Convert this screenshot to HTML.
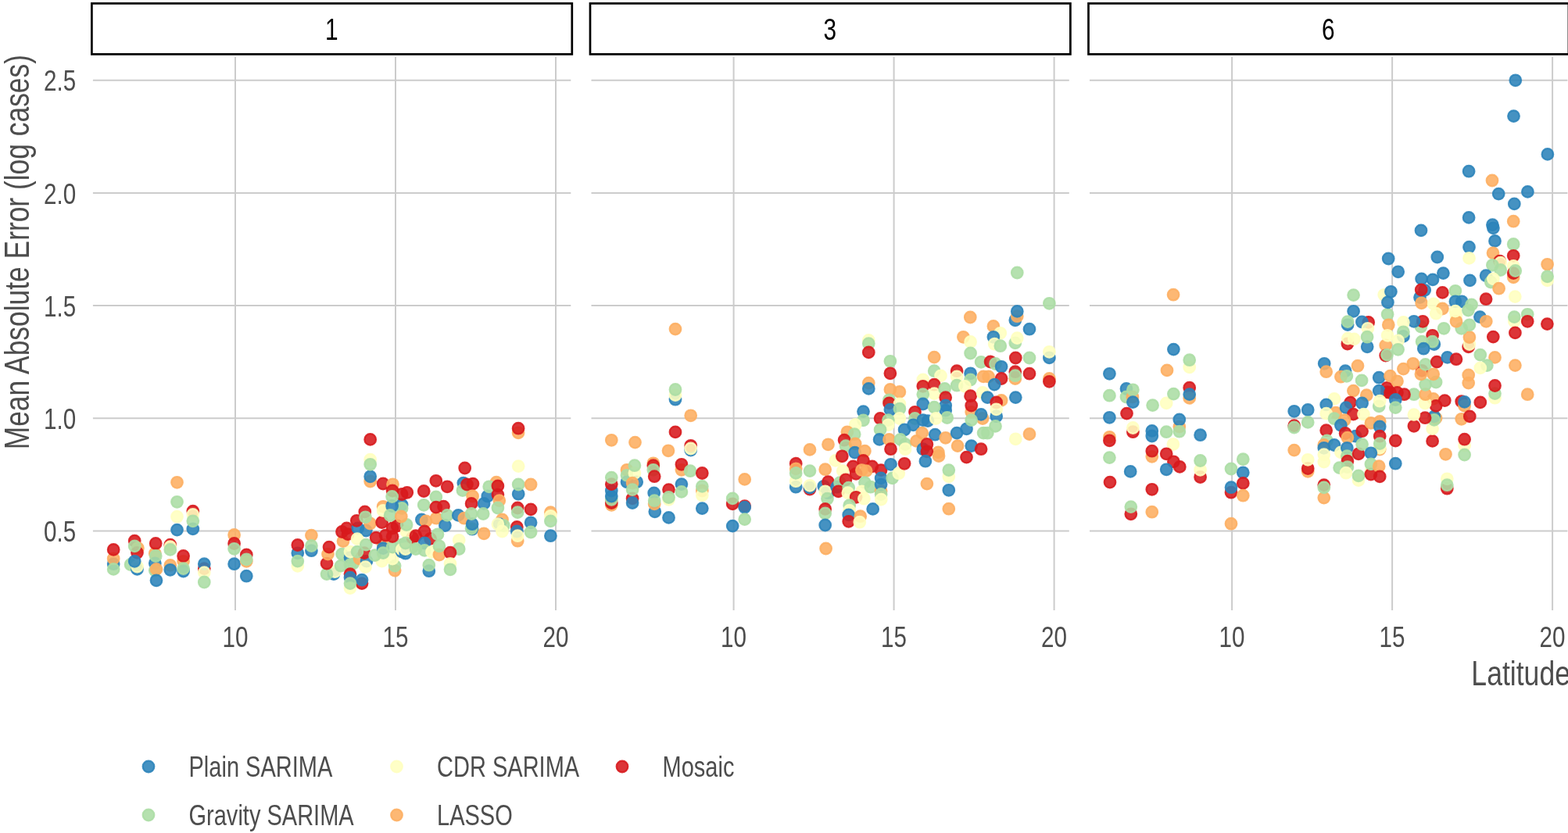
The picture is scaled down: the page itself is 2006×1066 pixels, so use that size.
<!DOCTYPE html><html><head><meta charset="utf-8"><style>html,body{margin:0;padding:0;background:#fff;overflow:hidden}svg{display:block}</style></head><body><svg width="2006" height="1066" viewBox="0 0 2006 1066" font-family="'Liberation Sans', Arial, sans-serif">
<rect width="2006" height="1066" fill="#fff"/>
<line x1="118.9" y1="679.5" x2="730.3" y2="679.5" stroke="#cccccc" stroke-width="2"/>
<line x1="118.9" y1="535.3" x2="730.3" y2="535.3" stroke="#cccccc" stroke-width="2"/>
<line x1="118.9" y1="391.1" x2="730.3" y2="391.1" stroke="#cccccc" stroke-width="2"/>
<line x1="118.9" y1="246.9" x2="730.3" y2="246.9" stroke="#cccccc" stroke-width="2"/>
<line x1="118.9" y1="102.7" x2="730.3" y2="102.7" stroke="#cccccc" stroke-width="2"/>
<line x1="301.0" y1="73.0" x2="301.0" y2="781.0" stroke="#cccccc" stroke-width="2"/>
<text transform="translate(301.0,828.2) scale(0.794,1)" font-size="37.35" text-anchor="middle" fill="#4d4d4d">10</text>
<line x1="506.0" y1="73.0" x2="506.0" y2="781.0" stroke="#cccccc" stroke-width="2"/>
<text transform="translate(506.0,828.2) scale(0.794,1)" font-size="37.35" text-anchor="middle" fill="#4d4d4d">15</text>
<line x1="711.0" y1="73.0" x2="711.0" y2="781.0" stroke="#cccccc" stroke-width="2"/>
<text transform="translate(711.0,828.2) scale(0.794,1)" font-size="37.35" text-anchor="middle" fill="#4d4d4d">20</text>
<rect x="117.4" y="4.4" width="614.4" height="65" fill="#fff" stroke="#000" stroke-width="2.7"/>
<text transform="translate(424.2,50.8) scale(0.771,1)" font-size="38.7" text-anchor="middle" fill="#000">1</text>
<line x1="756.5" y1="679.5" x2="1367.8" y2="679.5" stroke="#cccccc" stroke-width="2"/>
<line x1="756.5" y1="535.3" x2="1367.8" y2="535.3" stroke="#cccccc" stroke-width="2"/>
<line x1="756.5" y1="391.1" x2="1367.8" y2="391.1" stroke="#cccccc" stroke-width="2"/>
<line x1="756.5" y1="246.9" x2="1367.8" y2="246.9" stroke="#cccccc" stroke-width="2"/>
<line x1="756.5" y1="102.7" x2="1367.8" y2="102.7" stroke="#cccccc" stroke-width="2"/>
<line x1="938.6" y1="73.0" x2="938.6" y2="781.0" stroke="#cccccc" stroke-width="2"/>
<text transform="translate(938.6,828.2) scale(0.794,1)" font-size="37.35" text-anchor="middle" fill="#4d4d4d">10</text>
<line x1="1143.6" y1="73.0" x2="1143.6" y2="781.0" stroke="#cccccc" stroke-width="2"/>
<text transform="translate(1143.6,828.2) scale(0.794,1)" font-size="37.35" text-anchor="middle" fill="#4d4d4d">15</text>
<line x1="1348.6" y1="73.0" x2="1348.6" y2="781.0" stroke="#cccccc" stroke-width="2"/>
<text transform="translate(1348.6,828.2) scale(0.794,1)" font-size="37.35" text-anchor="middle" fill="#4d4d4d">20</text>
<rect x="755.0" y="4.4" width="614.4" height="65" fill="#fff" stroke="#000" stroke-width="2.7"/>
<text transform="translate(1061.8,50.8) scale(0.771,1)" font-size="38.7" text-anchor="middle" fill="#000">3</text>
<line x1="1394.0" y1="679.5" x2="2005.4" y2="679.5" stroke="#cccccc" stroke-width="2"/>
<line x1="1394.0" y1="535.3" x2="2005.4" y2="535.3" stroke="#cccccc" stroke-width="2"/>
<line x1="1394.0" y1="391.1" x2="2005.4" y2="391.1" stroke="#cccccc" stroke-width="2"/>
<line x1="1394.0" y1="246.9" x2="2005.4" y2="246.9" stroke="#cccccc" stroke-width="2"/>
<line x1="1394.0" y1="102.7" x2="2005.4" y2="102.7" stroke="#cccccc" stroke-width="2"/>
<line x1="1576.1" y1="73.0" x2="1576.1" y2="781.0" stroke="#cccccc" stroke-width="2"/>
<text transform="translate(1576.1,828.2) scale(0.794,1)" font-size="37.35" text-anchor="middle" fill="#4d4d4d">10</text>
<line x1="1781.1" y1="73.0" x2="1781.1" y2="781.0" stroke="#cccccc" stroke-width="2"/>
<text transform="translate(1781.1,828.2) scale(0.794,1)" font-size="37.35" text-anchor="middle" fill="#4d4d4d">15</text>
<line x1="1986.1" y1="73.0" x2="1986.1" y2="781.0" stroke="#cccccc" stroke-width="2"/>
<text transform="translate(1986.1,828.2) scale(0.794,1)" font-size="37.35" text-anchor="middle" fill="#4d4d4d">20</text>
<rect x="1392.5" y="4.4" width="614.4" height="65" fill="#fff" stroke="#000" stroke-width="2.7"/>
<text transform="translate(1699.3,50.8) scale(0.771,1)" font-size="38.7" text-anchor="middle" fill="#000">6</text>
<text transform="translate(97.2,693.1) scale(0.794,1)" font-size="37.35" text-anchor="end" fill="#4d4d4d">0.5</text>
<text transform="translate(97.2,548.9) scale(0.794,1)" font-size="37.35" text-anchor="end" fill="#4d4d4d">1.0</text>
<text transform="translate(97.2,404.7) scale(0.794,1)" font-size="37.35" text-anchor="end" fill="#4d4d4d">1.5</text>
<text transform="translate(97.2,260.5) scale(0.794,1)" font-size="37.35" text-anchor="end" fill="#4d4d4d">2.0</text>
<text transform="translate(97.2,116.3) scale(0.794,1)" font-size="37.35" text-anchor="end" fill="#4d4d4d">2.5</text>
<text transform="translate(36.8,70.0) rotate(-90) scale(0.8025,1)" font-size="44.1" text-anchor="end" fill="#4d4d4d">Mean Absolute Error (log cases)</text>
<text transform="translate(2009.0,877.2) scale(0.807,1)" font-size="44.1" text-anchor="end" fill="#4d4d4d">Latitude</text>
<g fill-opacity="0.88" stroke-opacity="0.88" stroke-width="2.2">
<circle cx="145.2" cy="721.7" r="7.30" fill="#2b83ba" stroke="#2b83ba"/>
<circle cx="145.2" cy="714.9" r="7.30" fill="#fdae61" stroke="#fdae61"/>
<circle cx="145.2" cy="728.4" r="7.30" fill="#abdda4" stroke="#abdda4"/>
<circle cx="145.2" cy="703.4" r="7.30" fill="#d7191c" stroke="#d7191c"/>
<circle cx="172.2" cy="692.1" r="7.30" fill="#d7191c" stroke="#d7191c"/>
<circle cx="176.4" cy="701.4" r="7.30" fill="#fdae61" stroke="#fdae61"/>
<circle cx="175.5" cy="707.3" r="7.30" fill="#d7191c" stroke="#d7191c"/>
<circle cx="172.2" cy="698.9" r="7.30" fill="#abdda4" stroke="#abdda4"/>
<circle cx="167.1" cy="722.5" r="7.30" fill="#abdda4" stroke="#abdda4"/>
<circle cx="175.5" cy="728.4" r="7.30" fill="#2b83ba" stroke="#2b83ba"/>
<circle cx="175.5" cy="725.0" r="7.30" fill="#ffffbf" stroke="#ffffbf"/>
<circle cx="172.2" cy="718.3" r="7.30" fill="#2b83ba" stroke="#2b83ba"/>
<circle cx="198.3" cy="708.2" r="7.30" fill="#fdae61" stroke="#fdae61"/>
<circle cx="198.3" cy="720.8" r="7.30" fill="#2b83ba" stroke="#2b83ba"/>
<circle cx="198.3" cy="730.1" r="7.30" fill="#abdda4" stroke="#abdda4"/>
<circle cx="199.2" cy="695.5" r="7.30" fill="#d7191c" stroke="#d7191c"/>
<circle cx="199.2" cy="711.5" r="7.30" fill="#abdda4" stroke="#abdda4"/>
<circle cx="200.0" cy="728.4" r="7.30" fill="#fdae61" stroke="#fdae61"/>
<circle cx="200.0" cy="742.8" r="7.30" fill="#2b83ba" stroke="#2b83ba"/>
<circle cx="217.8" cy="697.2" r="7.30" fill="#d7191c" stroke="#d7191c"/>
<circle cx="217.8" cy="699.7" r="7.30" fill="#ffffbf" stroke="#ffffbf"/>
<circle cx="217.8" cy="703.4" r="7.30" fill="#abdda4" stroke="#abdda4"/>
<circle cx="217.8" cy="723.4" r="7.30" fill="#fdae61" stroke="#fdae61"/>
<circle cx="217.8" cy="729.3" r="7.30" fill="#2b83ba" stroke="#2b83ba"/>
<circle cx="234.6" cy="718.3" r="7.30" fill="#fdae61" stroke="#fdae61"/>
<circle cx="234.6" cy="731.0" r="7.30" fill="#2b83ba" stroke="#2b83ba"/>
<circle cx="234.6" cy="711.5" r="7.30" fill="#d7191c" stroke="#d7191c"/>
<circle cx="234.6" cy="727.6" r="7.30" fill="#abdda4" stroke="#abdda4"/>
<circle cx="226.5" cy="617.3" r="7.30" fill="#fdae61" stroke="#fdae61"/>
<circle cx="226.5" cy="642.3" r="7.30" fill="#abdda4" stroke="#abdda4"/>
<circle cx="226.5" cy="661.2" r="7.30" fill="#ffffbf" stroke="#ffffbf"/>
<circle cx="226.5" cy="678.1" r="7.30" fill="#2b83ba" stroke="#2b83ba"/>
<circle cx="246.8" cy="654.1" r="7.30" fill="#d7191c" stroke="#d7191c"/>
<circle cx="246.8" cy="658.4" r="7.30" fill="#ffffbf" stroke="#ffffbf"/>
<circle cx="246.8" cy="676.9" r="7.30" fill="#2b83ba" stroke="#2b83ba"/>
<circle cx="246.8" cy="666.8" r="7.30" fill="#abdda4" stroke="#abdda4"/>
<circle cx="261.3" cy="727.6" r="7.30" fill="#d7191c" stroke="#d7191c"/>
<circle cx="261.3" cy="721.7" r="7.30" fill="#2b83ba" stroke="#2b83ba"/>
<circle cx="261.3" cy="732.6" r="7.30" fill="#ffffbf" stroke="#ffffbf"/>
<circle cx="261.3" cy="745.0" r="7.30" fill="#abdda4" stroke="#abdda4"/>
<circle cx="299.6" cy="684.5" r="7.30" fill="#fdae61" stroke="#fdae61"/>
<circle cx="299.6" cy="721.7" r="7.30" fill="#2b83ba" stroke="#2b83ba"/>
<circle cx="299.6" cy="695.5" r="7.30" fill="#d7191c" stroke="#d7191c"/>
<circle cx="299.6" cy="702.3" r="7.30" fill="#abdda4" stroke="#abdda4"/>
<circle cx="315.3" cy="709.9" r="7.30" fill="#d7191c" stroke="#d7191c"/>
<circle cx="315.3" cy="718.3" r="7.30" fill="#fdae61" stroke="#fdae61"/>
<circle cx="315.3" cy="715.8" r="7.30" fill="#abdda4" stroke="#abdda4"/>
<circle cx="315.3" cy="737.2" r="7.30" fill="#2b83ba" stroke="#2b83ba"/>
<circle cx="473.7" cy="616.0" r="7.30" fill="#fdae61" stroke="#fdae61"/>
<circle cx="473.7" cy="609.8" r="7.30" fill="#2b83ba" stroke="#2b83ba"/>
<circle cx="473.7" cy="588.2" r="7.30" fill="#ffffbf" stroke="#ffffbf"/>
<circle cx="473.7" cy="594.3" r="7.30" fill="#abdda4" stroke="#abdda4"/>
<circle cx="473.7" cy="562.4" r="7.30" fill="#d7191c" stroke="#d7191c"/>
<circle cx="380.8" cy="724.3" r="7.30" fill="#ffffbf" stroke="#ffffbf"/>
<circle cx="380.8" cy="707.8" r="7.30" fill="#2b83ba" stroke="#2b83ba"/>
<circle cx="380.8" cy="718.1" r="7.30" fill="#abdda4" stroke="#abdda4"/>
<circle cx="380.8" cy="697.5" r="7.30" fill="#d7191c" stroke="#d7191c"/>
<circle cx="398.4" cy="704.7" r="7.30" fill="#2b83ba" stroke="#2b83ba"/>
<circle cx="398.4" cy="685.1" r="7.30" fill="#fdae61" stroke="#fdae61"/>
<circle cx="398.4" cy="698.5" r="7.30" fill="#abdda4" stroke="#abdda4"/>
<circle cx="427.0" cy="734.6" r="7.30" fill="#2b83ba" stroke="#2b83ba"/>
<circle cx="428.5" cy="731.6" r="7.30" fill="#ffffbf" stroke="#ffffbf"/>
<circle cx="418.0" cy="734.6" r="7.30" fill="#abdda4" stroke="#abdda4"/>
<circle cx="418.0" cy="721.1" r="7.30" fill="#d7191c" stroke="#d7191c"/>
<circle cx="419.5" cy="709.1" r="7.30" fill="#fdae61" stroke="#fdae61"/>
<circle cx="421.0" cy="700.1" r="7.30" fill="#d7191c" stroke="#d7191c"/>
<circle cx="436.0" cy="724.1" r="7.30" fill="#abdda4" stroke="#abdda4"/>
<circle cx="437.5" cy="709.1" r="7.30" fill="#abdda4" stroke="#abdda4"/>
<circle cx="448.0" cy="713.6" r="7.30" fill="#2b83ba" stroke="#2b83ba"/>
<circle cx="448.0" cy="722.6" r="7.30" fill="#abdda4" stroke="#abdda4"/>
<circle cx="451.8" cy="721.1" r="7.30" fill="#abdda4" stroke="#abdda4"/>
<circle cx="460.0" cy="715.1" r="7.30" fill="#fdae61" stroke="#fdae61"/>
<circle cx="469.0" cy="718.1" r="7.30" fill="#2b83ba" stroke="#2b83ba"/>
<circle cx="466.0" cy="707.6" r="7.30" fill="#d7191c" stroke="#d7191c"/>
<circle cx="467.5" cy="725.6" r="7.30" fill="#ffffbf" stroke="#ffffbf"/>
<circle cx="448.0" cy="706.1" r="7.30" fill="#ffffbf" stroke="#ffffbf"/>
<circle cx="457.0" cy="706.1" r="7.30" fill="#abdda4" stroke="#abdda4"/>
<circle cx="439.0" cy="692.6" r="7.30" fill="#fdae61" stroke="#fdae61"/>
<circle cx="437.5" cy="680.5" r="7.30" fill="#d7191c" stroke="#d7191c"/>
<circle cx="443.5" cy="676.0" r="7.30" fill="#d7191c" stroke="#d7191c"/>
<circle cx="445.0" cy="683.6" r="7.30" fill="#d7191c" stroke="#d7191c"/>
<circle cx="457.8" cy="676.0" r="7.30" fill="#2b83ba" stroke="#2b83ba"/>
<circle cx="468.3" cy="679.0" r="7.30" fill="#2b83ba" stroke="#2b83ba"/>
<circle cx="457.0" cy="689.6" r="7.30" fill="#ffffbf" stroke="#ffffbf"/>
<circle cx="468.3" cy="697.1" r="7.30" fill="#abdda4" stroke="#abdda4"/>
<circle cx="456.3" cy="666.3" r="7.30" fill="#d7191c" stroke="#d7191c"/>
<circle cx="466.8" cy="655.0" r="7.30" fill="#d7191c" stroke="#d7191c"/>
<circle cx="473.6" cy="670.0" r="7.30" fill="#fdae61" stroke="#fdae61"/>
<circle cx="467.5" cy="661.8" r="7.30" fill="#abdda4" stroke="#abdda4"/>
<circle cx="463.0" cy="746.6" r="7.30" fill="#d7191c" stroke="#d7191c"/>
<circle cx="463.0" cy="742.1" r="7.30" fill="#2b83ba" stroke="#2b83ba"/>
<circle cx="448.0" cy="734.6" r="7.30" fill="#d7191c" stroke="#d7191c"/>
<circle cx="448.0" cy="739.1" r="7.30" fill="#2b83ba" stroke="#2b83ba"/>
<circle cx="448.0" cy="752.6" r="7.30" fill="#ffffbf" stroke="#ffffbf"/>
<circle cx="448.0" cy="746.6" r="7.30" fill="#abdda4" stroke="#abdda4"/>
<circle cx="505.1" cy="730.1" r="7.30" fill="#fdae61" stroke="#fdae61"/>
<circle cx="505.1" cy="724.1" r="7.30" fill="#abdda4" stroke="#abdda4"/>
<circle cx="488.6" cy="718.1" r="7.30" fill="#ffffbf" stroke="#ffffbf"/>
<circle cx="502.1" cy="715.1" r="7.30" fill="#ffffbf" stroke="#ffffbf"/>
<circle cx="479.6" cy="710.6" r="7.30" fill="#abdda4" stroke="#abdda4"/>
<circle cx="490.1" cy="697.1" r="7.30" fill="#fdae61" stroke="#fdae61"/>
<circle cx="490.1" cy="701.6" r="7.30" fill="#2b83ba" stroke="#2b83ba"/>
<circle cx="514.1" cy="706.1" r="7.30" fill="#2b83ba" stroke="#2b83ba"/>
<circle cx="490.1" cy="707.6" r="7.30" fill="#abdda4" stroke="#abdda4"/>
<circle cx="502.1" cy="700.1" r="7.30" fill="#abdda4" stroke="#abdda4"/>
<circle cx="514.1" cy="697.1" r="7.30" fill="#abdda4" stroke="#abdda4"/>
<circle cx="514.1" cy="703.1" r="7.30" fill="#ffffbf" stroke="#ffffbf"/>
<circle cx="527.6" cy="700.1" r="7.30" fill="#abdda4" stroke="#abdda4"/>
<circle cx="527.6" cy="688.1" r="7.30" fill="#d7191c" stroke="#d7191c"/>
<circle cx="481.1" cy="688.1" r="7.30" fill="#d7191c" stroke="#d7191c"/>
<circle cx="493.1" cy="685.1" r="7.30" fill="#d7191c" stroke="#d7191c"/>
<circle cx="502.1" cy="686.6" r="7.30" fill="#d7191c" stroke="#d7191c"/>
<circle cx="488.6" cy="668.5" r="7.30" fill="#d7191c" stroke="#d7191c"/>
<circle cx="502.1" cy="676.0" r="7.30" fill="#d7191c" stroke="#d7191c"/>
<circle cx="508.1" cy="673.0" r="7.30" fill="#d7191c" stroke="#d7191c"/>
<circle cx="520.1" cy="680.5" r="7.30" fill="#ffffbf" stroke="#ffffbf"/>
<circle cx="520.1" cy="671.5" r="7.30" fill="#abdda4" stroke="#abdda4"/>
<circle cx="490.1" cy="648.3" r="7.30" fill="#fdae61" stroke="#fdae61"/>
<circle cx="490.1" cy="653.5" r="7.30" fill="#ffffbf" stroke="#ffffbf"/>
<circle cx="514.1" cy="646.0" r="7.30" fill="#2b83ba" stroke="#2b83ba"/>
<circle cx="514.1" cy="650.5" r="7.30" fill="#abdda4" stroke="#abdda4"/>
<circle cx="501.6" cy="647.5" r="7.30" fill="#2b83ba" stroke="#2b83ba"/>
<circle cx="499.1" cy="659.5" r="7.30" fill="#abdda4" stroke="#abdda4"/>
<circle cx="513.3" cy="661.0" r="7.30" fill="#fdae61" stroke="#fdae61"/>
<circle cx="490.1" cy="619.0" r="7.30" fill="#d7191c" stroke="#d7191c"/>
<circle cx="502.5" cy="619.8" r="7.30" fill="#fdae61" stroke="#fdae61"/>
<circle cx="502.1" cy="628.0" r="7.30" fill="#d7191c" stroke="#d7191c"/>
<circle cx="514.1" cy="632.5" r="7.30" fill="#d7191c" stroke="#d7191c"/>
<circle cx="520.8" cy="630.3" r="7.30" fill="#d7191c" stroke="#d7191c"/>
<circle cx="501.6" cy="635.5" r="7.30" fill="#abdda4" stroke="#abdda4"/>
<circle cx="518.8" cy="708.2" r="7.30" fill="#2b83ba" stroke="#2b83ba"/>
<circle cx="518.8" cy="702.5" r="7.30" fill="#ffffbf" stroke="#ffffbf"/>
<circle cx="518.8" cy="695.0" r="7.30" fill="#abdda4" stroke="#abdda4"/>
<circle cx="539.4" cy="665.0" r="7.30" fill="#2b83ba" stroke="#2b83ba"/>
<circle cx="545.0" cy="666.9" r="7.30" fill="#fdae61" stroke="#fdae61"/>
<circle cx="558.1" cy="663.2" r="7.30" fill="#fdae61" stroke="#fdae61"/>
<circle cx="569.4" cy="672.5" r="7.30" fill="#2b83ba" stroke="#2b83ba"/>
<circle cx="531.9" cy="685.7" r="7.30" fill="#d7191c" stroke="#d7191c"/>
<circle cx="543.1" cy="680.0" r="7.30" fill="#d7191c" stroke="#d7191c"/>
<circle cx="550.6" cy="689.4" r="7.30" fill="#d7191c" stroke="#d7191c"/>
<circle cx="560.0" cy="683.8" r="7.30" fill="#abdda4" stroke="#abdda4"/>
<circle cx="543.1" cy="695.0" r="7.30" fill="#2b83ba" stroke="#2b83ba"/>
<circle cx="531.9" cy="702.5" r="7.30" fill="#abdda4" stroke="#abdda4"/>
<circle cx="543.1" cy="704.4" r="7.30" fill="#abdda4" stroke="#abdda4"/>
<circle cx="552.5" cy="706.3" r="7.30" fill="#ffffbf" stroke="#ffffbf"/>
<circle cx="561.9" cy="710.0" r="7.30" fill="#fdae61" stroke="#fdae61"/>
<circle cx="561.9" cy="698.8" r="7.30" fill="#abdda4" stroke="#abdda4"/>
<circle cx="548.8" cy="730.7" r="7.30" fill="#2b83ba" stroke="#2b83ba"/>
<circle cx="548.8" cy="723.2" r="7.30" fill="#abdda4" stroke="#abdda4"/>
<circle cx="587.2" cy="691.3" r="7.30" fill="#ffffbf" stroke="#ffffbf"/>
<circle cx="587.2" cy="702.5" r="7.30" fill="#abdda4" stroke="#abdda4"/>
<circle cx="576.0" cy="707.2" r="7.30" fill="#d7191c" stroke="#d7191c"/>
<circle cx="576.0" cy="721.3" r="7.30" fill="#ffffbf" stroke="#ffffbf"/>
<circle cx="576.0" cy="728.8" r="7.30" fill="#abdda4" stroke="#abdda4"/>
<circle cx="542.2" cy="628.5" r="7.30" fill="#d7191c" stroke="#d7191c"/>
<circle cx="557.8" cy="615.3" r="7.30" fill="#d7191c" stroke="#d7191c"/>
<circle cx="572.2" cy="622.8" r="7.30" fill="#d7191c" stroke="#d7191c"/>
<circle cx="542.2" cy="646.3" r="7.30" fill="#abdda4" stroke="#abdda4"/>
<circle cx="557.8" cy="636.0" r="7.30" fill="#abdda4" stroke="#abdda4"/>
<circle cx="557.8" cy="649.1" r="7.30" fill="#d7191c" stroke="#d7191c"/>
<circle cx="567.5" cy="648.1" r="7.30" fill="#d7191c" stroke="#d7191c"/>
<circle cx="572.2" cy="659.4" r="7.30" fill="#abdda4" stroke="#abdda4"/>
<circle cx="586.3" cy="659.4" r="7.30" fill="#2b83ba" stroke="#2b83ba"/>
<circle cx="593.8" cy="663.2" r="7.30" fill="#fdae61" stroke="#fdae61"/>
<circle cx="592.8" cy="618.1" r="7.30" fill="#2b83ba" stroke="#2b83ba"/>
<circle cx="591.9" cy="627.5" r="7.30" fill="#abdda4" stroke="#abdda4"/>
<circle cx="597.5" cy="620.0" r="7.30" fill="#d7191c" stroke="#d7191c"/>
<circle cx="605.0" cy="619.1" r="7.30" fill="#d7191c" stroke="#d7191c"/>
<circle cx="594.7" cy="599.0" r="7.30" fill="#d7191c" stroke="#d7191c"/>
<circle cx="604.6" cy="635.0" r="7.30" fill="#fdae61" stroke="#fdae61"/>
<circle cx="603.1" cy="644.4" r="7.30" fill="#d7191c" stroke="#d7191c"/>
<circle cx="604.1" cy="677.2" r="7.30" fill="#2b83ba" stroke="#2b83ba"/>
<circle cx="603.1" cy="676.3" r="7.30" fill="#abdda4" stroke="#abdda4"/>
<circle cx="604.1" cy="670.7" r="7.30" fill="#2b83ba" stroke="#2b83ba"/>
<circle cx="603.1" cy="657.5" r="7.30" fill="#abdda4" stroke="#abdda4"/>
<circle cx="619.1" cy="682.8" r="7.30" fill="#fdae61" stroke="#fdae61"/>
<circle cx="623.8" cy="635.0" r="7.30" fill="#2b83ba" stroke="#2b83ba"/>
<circle cx="635.0" cy="617.2" r="7.30" fill="#fdae61" stroke="#fdae61"/>
<circle cx="625.7" cy="622.8" r="7.30" fill="#abdda4" stroke="#abdda4"/>
<circle cx="636.9" cy="621.9" r="7.30" fill="#d7191c" stroke="#d7191c"/>
<circle cx="636.9" cy="633.1" r="7.30" fill="#d7191c" stroke="#d7191c"/>
<circle cx="638.8" cy="640.6" r="7.30" fill="#fdae61" stroke="#fdae61"/>
<circle cx="619.1" cy="644.4" r="7.30" fill="#2b83ba" stroke="#2b83ba"/>
<circle cx="618.2" cy="657.5" r="7.30" fill="#abdda4" stroke="#abdda4"/>
<circle cx="636.9" cy="650.0" r="7.30" fill="#abdda4" stroke="#abdda4"/>
<circle cx="642.5" cy="665.0" r="7.30" fill="#fdae61" stroke="#fdae61"/>
<circle cx="638.8" cy="670.7" r="7.30" fill="#2b83ba" stroke="#2b83ba"/>
<circle cx="644.4" cy="672.5" r="7.30" fill="#abdda4" stroke="#abdda4"/>
<circle cx="642.5" cy="680.0" r="7.30" fill="#ffffbf" stroke="#ffffbf"/>
<circle cx="636.9" cy="670.7" r="7.30" fill="#ffffbf" stroke="#ffffbf"/>
<circle cx="663.2" cy="596.6" r="7.30" fill="#ffffbf" stroke="#ffffbf"/>
<circle cx="663.2" cy="632.2" r="7.30" fill="#2b83ba" stroke="#2b83ba"/>
<circle cx="663.2" cy="620.0" r="7.30" fill="#abdda4" stroke="#abdda4"/>
<circle cx="679.1" cy="620.0" r="7.30" fill="#fdae61" stroke="#fdae61"/>
<circle cx="662.2" cy="650.0" r="7.30" fill="#d7191c" stroke="#d7191c"/>
<circle cx="662.2" cy="655.6" r="7.30" fill="#abdda4" stroke="#abdda4"/>
<circle cx="662.2" cy="692.2" r="7.30" fill="#fdae61" stroke="#fdae61"/>
<circle cx="661.3" cy="674.4" r="7.30" fill="#d7191c" stroke="#d7191c"/>
<circle cx="661.3" cy="680.0" r="7.30" fill="#2b83ba" stroke="#2b83ba"/>
<circle cx="662.2" cy="685.7" r="7.30" fill="#ffffbf" stroke="#ffffbf"/>
<circle cx="679.1" cy="651.9" r="7.30" fill="#d7191c" stroke="#d7191c"/>
<circle cx="679.1" cy="668.8" r="7.30" fill="#2b83ba" stroke="#2b83ba"/>
<circle cx="679.1" cy="681.0" r="7.30" fill="#abdda4" stroke="#abdda4"/>
<circle cx="704.4" cy="655.6" r="7.30" fill="#fdae61" stroke="#fdae61"/>
<circle cx="704.4" cy="660.3" r="7.30" fill="#ffffbf" stroke="#ffffbf"/>
<circle cx="704.4" cy="666.9" r="7.30" fill="#abdda4" stroke="#abdda4"/>
<circle cx="704.4" cy="685.7" r="7.30" fill="#2b83ba" stroke="#2b83ba"/>
<circle cx="663.1" cy="553.8" r="7.30" fill="#fdae61" stroke="#fdae61"/>
<circle cx="663.1" cy="548.2" r="7.30" fill="#d7191c" stroke="#d7191c"/>
<circle cx="864.0" cy="421.1" r="7.30" fill="#fdae61" stroke="#fdae61"/>
<circle cx="864.0" cy="511.2" r="7.30" fill="#2b83ba" stroke="#2b83ba"/>
<circle cx="864.0" cy="505.6" r="7.30" fill="#ffffbf" stroke="#ffffbf"/>
<circle cx="864.0" cy="498.5" r="7.30" fill="#abdda4" stroke="#abdda4"/>
<circle cx="883.7" cy="531.8" r="7.30" fill="#fdae61" stroke="#fdae61"/>
<circle cx="864.0" cy="552.9" r="7.30" fill="#d7191c" stroke="#d7191c"/>
<circle cx="782.3" cy="563.3" r="7.30" fill="#fdae61" stroke="#fdae61"/>
<circle cx="812.5" cy="566.1" r="7.30" fill="#fdae61" stroke="#fdae61"/>
<circle cx="855.0" cy="576.8" r="7.30" fill="#fdae61" stroke="#fdae61"/>
<circle cx="883.7" cy="576.0" r="7.30" fill="#2b83ba" stroke="#2b83ba"/>
<circle cx="883.7" cy="570.3" r="7.30" fill="#d7191c" stroke="#d7191c"/>
<circle cx="883.7" cy="574.0" r="7.30" fill="#ffffbf" stroke="#ffffbf"/>
<circle cx="782.3" cy="646.3" r="7.30" fill="#fdae61" stroke="#fdae61"/>
<circle cx="782.3" cy="643.5" r="7.30" fill="#d7191c" stroke="#d7191c"/>
<circle cx="782.3" cy="639.3" r="7.30" fill="#abdda4" stroke="#abdda4"/>
<circle cx="782.3" cy="628.0" r="7.30" fill="#2b83ba" stroke="#2b83ba"/>
<circle cx="782.3" cy="635.1" r="7.30" fill="#2b83ba" stroke="#2b83ba"/>
<circle cx="782.3" cy="619.6" r="7.30" fill="#d7191c" stroke="#d7191c"/>
<circle cx="782.3" cy="611.1" r="7.30" fill="#abdda4" stroke="#abdda4"/>
<circle cx="802.0" cy="601.3" r="7.30" fill="#fdae61" stroke="#fdae61"/>
<circle cx="802.0" cy="616.8" r="7.30" fill="#2b83ba" stroke="#2b83ba"/>
<circle cx="814.7" cy="616.8" r="7.30" fill="#2b83ba" stroke="#2b83ba"/>
<circle cx="802.0" cy="608.3" r="7.30" fill="#abdda4" stroke="#abdda4"/>
<circle cx="811.9" cy="605.5" r="7.30" fill="#ffffbf" stroke="#ffffbf"/>
<circle cx="811.9" cy="595.7" r="7.30" fill="#abdda4" stroke="#abdda4"/>
<circle cx="809.1" cy="618.2" r="7.30" fill="#fdae61" stroke="#fdae61"/>
<circle cx="809.1" cy="637.9" r="7.30" fill="#d7191c" stroke="#d7191c"/>
<circle cx="809.1" cy="643.5" r="7.30" fill="#2b83ba" stroke="#2b83ba"/>
<circle cx="809.1" cy="626.6" r="7.30" fill="#abdda4" stroke="#abdda4"/>
<circle cx="835.8" cy="592.8" r="7.30" fill="#fdae61" stroke="#fdae61"/>
<circle cx="835.8" cy="595.7" r="7.30" fill="#d7191c" stroke="#d7191c"/>
<circle cx="835.8" cy="601.3" r="7.30" fill="#abdda4" stroke="#abdda4"/>
<circle cx="837.2" cy="609.7" r="7.30" fill="#d7191c" stroke="#d7191c"/>
<circle cx="836.7" cy="630.9" r="7.30" fill="#2b83ba" stroke="#2b83ba"/>
<circle cx="837.8" cy="654.8" r="7.30" fill="#2b83ba" stroke="#2b83ba"/>
<circle cx="837.2" cy="644.9" r="7.30" fill="#fdae61" stroke="#fdae61"/>
<circle cx="837.2" cy="640.7" r="7.30" fill="#abdda4" stroke="#abdda4"/>
<circle cx="855.5" cy="626.6" r="7.30" fill="#d7191c" stroke="#d7191c"/>
<circle cx="855.5" cy="639.3" r="7.30" fill="#ffffbf" stroke="#ffffbf"/>
<circle cx="855.5" cy="636.5" r="7.30" fill="#abdda4" stroke="#abdda4"/>
<circle cx="855.5" cy="662.4" r="7.30" fill="#2b83ba" stroke="#2b83ba"/>
<circle cx="871.9" cy="601.3" r="7.30" fill="#fdae61" stroke="#fdae61"/>
<circle cx="871.9" cy="594.3" r="7.30" fill="#d7191c" stroke="#d7191c"/>
<circle cx="871.9" cy="619.6" r="7.30" fill="#2b83ba" stroke="#2b83ba"/>
<circle cx="871.9" cy="629.4" r="7.30" fill="#abdda4" stroke="#abdda4"/>
<circle cx="883.1" cy="602.7" r="7.30" fill="#abdda4" stroke="#abdda4"/>
<circle cx="898.3" cy="605.5" r="7.30" fill="#d7191c" stroke="#d7191c"/>
<circle cx="898.3" cy="628.0" r="7.30" fill="#fdae61" stroke="#fdae61"/>
<circle cx="898.3" cy="633.7" r="7.30" fill="#ffffbf" stroke="#ffffbf"/>
<circle cx="898.3" cy="622.4" r="7.30" fill="#abdda4" stroke="#abdda4"/>
<circle cx="898.3" cy="650.6" r="7.30" fill="#2b83ba" stroke="#2b83ba"/>
<circle cx="937.2" cy="644.9" r="7.30" fill="#d7191c" stroke="#d7191c"/>
<circle cx="937.2" cy="637.9" r="7.30" fill="#abdda4" stroke="#abdda4"/>
<circle cx="937.2" cy="673.1" r="7.30" fill="#2b83ba" stroke="#2b83ba"/>
<circle cx="952.7" cy="613.4" r="7.30" fill="#fdae61" stroke="#fdae61"/>
<circle cx="952.7" cy="647.7" r="7.30" fill="#d7191c" stroke="#d7191c"/>
<circle cx="952.7" cy="649.2" r="7.30" fill="#2b83ba" stroke="#2b83ba"/>
<circle cx="952.7" cy="664.6" r="7.30" fill="#abdda4" stroke="#abdda4"/>
<circle cx="1018.2" cy="623.2" r="7.30" fill="#2b83ba" stroke="#2b83ba"/>
<circle cx="1018.2" cy="615.7" r="7.30" fill="#ffffbf" stroke="#ffffbf"/>
<circle cx="1018.2" cy="593.2" r="7.30" fill="#d7191c" stroke="#d7191c"/>
<circle cx="1018.2" cy="599.8" r="7.30" fill="#fdae61" stroke="#fdae61"/>
<circle cx="1018.2" cy="605.4" r="7.30" fill="#abdda4" stroke="#abdda4"/>
<circle cx="1036.0" cy="575.4" r="7.30" fill="#fdae61" stroke="#fdae61"/>
<circle cx="1036.0" cy="626.0" r="7.30" fill="#d7191c" stroke="#d7191c"/>
<circle cx="1036.0" cy="624.1" r="7.30" fill="#2b83ba" stroke="#2b83ba"/>
<circle cx="1036.0" cy="621.3" r="7.30" fill="#ffffbf" stroke="#ffffbf"/>
<circle cx="1036.0" cy="602.6" r="7.30" fill="#abdda4" stroke="#abdda4"/>
<circle cx="1059.5" cy="568.8" r="7.30" fill="#fdae61" stroke="#fdae61"/>
<circle cx="1055.7" cy="600.7" r="7.30" fill="#fdae61" stroke="#fdae61"/>
<circle cx="1053.8" cy="622.3" r="7.30" fill="#2b83ba" stroke="#2b83ba"/>
<circle cx="1059.5" cy="616.6" r="7.30" fill="#d7191c" stroke="#d7191c"/>
<circle cx="1059.5" cy="630.7" r="7.30" fill="#2b83ba" stroke="#2b83ba"/>
<circle cx="1055.7" cy="628.8" r="7.30" fill="#ffffbf" stroke="#ffffbf"/>
<circle cx="1058.5" cy="638.2" r="7.30" fill="#abdda4" stroke="#abdda4"/>
<circle cx="1055.7" cy="651.4" r="7.30" fill="#d7191c" stroke="#d7191c"/>
<circle cx="1055.7" cy="657.0" r="7.30" fill="#abdda4" stroke="#abdda4"/>
<circle cx="1055.7" cy="672.0" r="7.30" fill="#2b83ba" stroke="#2b83ba"/>
<circle cx="1056.6" cy="702.0" r="7.30" fill="#fdae61" stroke="#fdae61"/>
<circle cx="1104.5" cy="526.6" r="7.30" fill="#2b83ba" stroke="#2b83ba"/>
<circle cx="1104.5" cy="537.8" r="7.30" fill="#abdda4" stroke="#abdda4"/>
<circle cx="1094.2" cy="543.5" r="7.30" fill="#ffffbf" stroke="#ffffbf"/>
<circle cx="1083.9" cy="552.8" r="7.30" fill="#fdae61" stroke="#fdae61"/>
<circle cx="1093.2" cy="555.7" r="7.30" fill="#abdda4" stroke="#abdda4"/>
<circle cx="1080.1" cy="563.2" r="7.30" fill="#d7191c" stroke="#d7191c"/>
<circle cx="1082.0" cy="570.7" r="7.30" fill="#abdda4" stroke="#abdda4"/>
<circle cx="1094.2" cy="567.9" r="7.30" fill="#fdae61" stroke="#fdae61"/>
<circle cx="1093.6" cy="579.1" r="7.30" fill="#2b83ba" stroke="#2b83ba"/>
<circle cx="1106.4" cy="577.2" r="7.30" fill="#fdae61" stroke="#fdae61"/>
<circle cx="1068.8" cy="589.4" r="7.30" fill="#ffffbf" stroke="#ffffbf"/>
<circle cx="1077.3" cy="583.8" r="7.30" fill="#d7191c" stroke="#d7191c"/>
<circle cx="1104.5" cy="589.4" r="7.30" fill="#d7191c" stroke="#d7191c"/>
<circle cx="1115.8" cy="596.9" r="7.30" fill="#d7191c" stroke="#d7191c"/>
<circle cx="1108.2" cy="602.6" r="7.30" fill="#fdae61" stroke="#fdae61"/>
<circle cx="1091.4" cy="596.9" r="7.30" fill="#d7191c" stroke="#d7191c"/>
<circle cx="1078.2" cy="602.6" r="7.30" fill="#ffffbf" stroke="#ffffbf"/>
<circle cx="1095.1" cy="606.3" r="7.30" fill="#d7191c" stroke="#d7191c"/>
<circle cx="1070.7" cy="623.2" r="7.30" fill="#2b83ba" stroke="#2b83ba"/>
<circle cx="1074.5" cy="617.6" r="7.30" fill="#abdda4" stroke="#abdda4"/>
<circle cx="1072.6" cy="628.8" r="7.30" fill="#d7191c" stroke="#d7191c"/>
<circle cx="1082.0" cy="613.8" r="7.30" fill="#d7191c" stroke="#d7191c"/>
<circle cx="1085.7" cy="624.1" r="7.30" fill="#abdda4" stroke="#abdda4"/>
<circle cx="1084.8" cy="630.7" r="7.30" fill="#ffffbf" stroke="#ffffbf"/>
<circle cx="1106.4" cy="617.6" r="7.30" fill="#abdda4" stroke="#abdda4"/>
<circle cx="1102.6" cy="628.8" r="7.30" fill="#ffffbf" stroke="#ffffbf"/>
<circle cx="1113.9" cy="623.2" r="7.30" fill="#abdda4" stroke="#abdda4"/>
<circle cx="1095.1" cy="636.3" r="7.30" fill="#d7191c" stroke="#d7191c"/>
<circle cx="1105.4" cy="638.2" r="7.30" fill="#ffffbf" stroke="#ffffbf"/>
<circle cx="1086.7" cy="646.7" r="7.30" fill="#abdda4" stroke="#abdda4"/>
<circle cx="1086.7" cy="653.2" r="7.30" fill="#ffffbf" stroke="#ffffbf"/>
<circle cx="1085.7" cy="658.9" r="7.30" fill="#2b83ba" stroke="#2b83ba"/>
<circle cx="1085.7" cy="667.3" r="7.30" fill="#d7191c" stroke="#d7191c"/>
<circle cx="1100.7" cy="660.7" r="7.30" fill="#fdae61" stroke="#fdae61"/>
<circle cx="1099.8" cy="668.2" r="7.30" fill="#ffffbf" stroke="#ffffbf"/>
<circle cx="1116.7" cy="651.4" r="7.30" fill="#2b83ba" stroke="#2b83ba"/>
<circle cx="1111.3" cy="435.5" r="7.30" fill="#ffffbf" stroke="#ffffbf"/>
<circle cx="1111.3" cy="439.6" r="7.30" fill="#abdda4" stroke="#abdda4"/>
<circle cx="1111.3" cy="450.9" r="7.30" fill="#d7191c" stroke="#d7191c"/>
<circle cx="1111.3" cy="490.1" r="7.30" fill="#fdae61" stroke="#fdae61"/>
<circle cx="1111.3" cy="497.4" r="7.30" fill="#2b83ba" stroke="#2b83ba"/>
<circle cx="1138.9" cy="462.3" r="7.30" fill="#abdda4" stroke="#abdda4"/>
<circle cx="1138.9" cy="477.8" r="7.30" fill="#d7191c" stroke="#d7191c"/>
<circle cx="1138.9" cy="498.4" r="7.30" fill="#fdae61" stroke="#fdae61"/>
<circle cx="1150.9" cy="501.5" r="7.30" fill="#fdae61" stroke="#fdae61"/>
<circle cx="1137.5" cy="511.8" r="7.30" fill="#abdda4" stroke="#abdda4"/>
<circle cx="1137.5" cy="515.9" r="7.30" fill="#d7191c" stroke="#d7191c"/>
<circle cx="1150.9" cy="517.0" r="7.30" fill="#ffffbf" stroke="#ffffbf"/>
<circle cx="1138.9" cy="524.2" r="7.30" fill="#2b83ba" stroke="#2b83ba"/>
<circle cx="1150.9" cy="523.2" r="7.30" fill="#abdda4" stroke="#abdda4"/>
<circle cx="1150.9" cy="535.5" r="7.30" fill="#ffffbf" stroke="#ffffbf"/>
<circle cx="1126.1" cy="535.5" r="7.30" fill="#d7191c" stroke="#d7191c"/>
<circle cx="1136.4" cy="537.6" r="7.30" fill="#abdda4" stroke="#abdda4"/>
<circle cx="1136.4" cy="543.8" r="7.30" fill="#ffffbf" stroke="#ffffbf"/>
<circle cx="1126.1" cy="550.0" r="7.30" fill="#abdda4" stroke="#abdda4"/>
<circle cx="1125.1" cy="562.4" r="7.30" fill="#2b83ba" stroke="#2b83ba"/>
<circle cx="1137.5" cy="562.4" r="7.30" fill="#fdae61" stroke="#fdae61"/>
<circle cx="1139.5" cy="574.7" r="7.30" fill="#d7191c" stroke="#d7191c"/>
<circle cx="1157.1" cy="550.0" r="7.30" fill="#2b83ba" stroke="#2b83ba"/>
<circle cx="1151.9" cy="562.4" r="7.30" fill="#abdda4" stroke="#abdda4"/>
<circle cx="1158.1" cy="568.5" r="7.30" fill="#abdda4" stroke="#abdda4"/>
<circle cx="1158.1" cy="574.7" r="7.30" fill="#ffffbf" stroke="#ffffbf"/>
<circle cx="1102.4" cy="601.6" r="7.30" fill="#fdae61" stroke="#fdae61"/>
<circle cx="1127.1" cy="628.4" r="7.30" fill="#fdae61" stroke="#fdae61"/>
<circle cx="1127.1" cy="601.6" r="7.30" fill="#d7191c" stroke="#d7191c"/>
<circle cx="1127.1" cy="611.9" r="7.30" fill="#2b83ba" stroke="#2b83ba"/>
<circle cx="1127.1" cy="620.1" r="7.30" fill="#2b83ba" stroke="#2b83ba"/>
<circle cx="1127.1" cy="632.5" r="7.30" fill="#abdda4" stroke="#abdda4"/>
<circle cx="1141.6" cy="611.9" r="7.30" fill="#abdda4" stroke="#abdda4"/>
<circle cx="1139.5" cy="594.3" r="7.30" fill="#2b83ba" stroke="#2b83ba"/>
<circle cx="1149.8" cy="605.7" r="7.30" fill="#ffffbf" stroke="#ffffbf"/>
<circle cx="1157.1" cy="593.3" r="7.30" fill="#d7191c" stroke="#d7191c"/>
<circle cx="1195.2" cy="457.1" r="7.30" fill="#fdae61" stroke="#fdae61"/>
<circle cx="1195.2" cy="474.7" r="7.30" fill="#abdda4" stroke="#abdda4"/>
<circle cx="1203.5" cy="480.9" r="7.30" fill="#ffffbf" stroke="#ffffbf"/>
<circle cx="1180.8" cy="486.0" r="7.30" fill="#ffffbf" stroke="#ffffbf"/>
<circle cx="1180.8" cy="494.3" r="7.30" fill="#d7191c" stroke="#d7191c"/>
<circle cx="1195.2" cy="492.2" r="7.30" fill="#d7191c" stroke="#d7191c"/>
<circle cx="1195.2" cy="503.6" r="7.30" fill="#ffffbf" stroke="#ffffbf"/>
<circle cx="1180.8" cy="504.6" r="7.30" fill="#abdda4" stroke="#abdda4"/>
<circle cx="1208.6" cy="497.4" r="7.30" fill="#abdda4" stroke="#abdda4"/>
<circle cx="1209.7" cy="508.7" r="7.30" fill="#d7191c" stroke="#d7191c"/>
<circle cx="1180.8" cy="517.0" r="7.30" fill="#2b83ba" stroke="#2b83ba"/>
<circle cx="1209.7" cy="519.0" r="7.30" fill="#2b83ba" stroke="#2b83ba"/>
<circle cx="1209.7" cy="525.2" r="7.30" fill="#2b83ba" stroke="#2b83ba"/>
<circle cx="1195.2" cy="521.1" r="7.30" fill="#abdda4" stroke="#abdda4"/>
<circle cx="1211.7" cy="534.5" r="7.30" fill="#abdda4" stroke="#abdda4"/>
<circle cx="1170.5" cy="527.3" r="7.30" fill="#d7191c" stroke="#d7191c"/>
<circle cx="1170.5" cy="535.5" r="7.30" fill="#abdda4" stroke="#abdda4"/>
<circle cx="1180.8" cy="537.6" r="7.30" fill="#2b83ba" stroke="#2b83ba"/>
<circle cx="1187.0" cy="538.6" r="7.30" fill="#2b83ba" stroke="#2b83ba"/>
<circle cx="1197.3" cy="535.5" r="7.30" fill="#ffffbf" stroke="#ffffbf"/>
<circle cx="1168.4" cy="543.8" r="7.30" fill="#2b83ba" stroke="#2b83ba"/>
<circle cx="1179.7" cy="554.1" r="7.30" fill="#fdae61" stroke="#fdae61"/>
<circle cx="1172.5" cy="564.4" r="7.30" fill="#fdae61" stroke="#fdae61"/>
<circle cx="1196.3" cy="556.2" r="7.30" fill="#2b83ba" stroke="#2b83ba"/>
<circle cx="1209.7" cy="560.3" r="7.30" fill="#fdae61" stroke="#fdae61"/>
<circle cx="1180.8" cy="574.7" r="7.30" fill="#2b83ba" stroke="#2b83ba"/>
<circle cx="1185.9" cy="568.5" r="7.30" fill="#d7191c" stroke="#d7191c"/>
<circle cx="1200.4" cy="578.9" r="7.30" fill="#fdae61" stroke="#fdae61"/>
<circle cx="1185.9" cy="577.8" r="7.30" fill="#d7191c" stroke="#d7191c"/>
<circle cx="1183.9" cy="590.2" r="7.30" fill="#2b83ba" stroke="#2b83ba"/>
<circle cx="1225.1" cy="570.6" r="7.30" fill="#fdae61" stroke="#fdae61"/>
<circle cx="1224.1" cy="554.1" r="7.30" fill="#2b83ba" stroke="#2b83ba"/>
<circle cx="1236.5" cy="548.9" r="7.30" fill="#2b83ba" stroke="#2b83ba"/>
<circle cx="1242.7" cy="570.6" r="7.30" fill="#2b83ba" stroke="#2b83ba"/>
<circle cx="1236.5" cy="585.1" r="7.30" fill="#d7191c" stroke="#d7191c"/>
<circle cx="1255.1" cy="574.7" r="7.30" fill="#d7191c" stroke="#d7191c"/>
<circle cx="1213.8" cy="609.8" r="7.30" fill="#ffffbf" stroke="#ffffbf"/>
<circle cx="1213.8" cy="601.6" r="7.30" fill="#abdda4" stroke="#abdda4"/>
<circle cx="1185.9" cy="619.1" r="7.30" fill="#fdae61" stroke="#fdae61"/>
<circle cx="1213.8" cy="627.3" r="7.30" fill="#2b83ba" stroke="#2b83ba"/>
<circle cx="1232.4" cy="431.3" r="7.30" fill="#fdae61" stroke="#fdae61"/>
<circle cx="1241.6" cy="437.5" r="7.30" fill="#ffffbf" stroke="#ffffbf"/>
<circle cx="1241.6" cy="452.0" r="7.30" fill="#abdda4" stroke="#abdda4"/>
<circle cx="1255.1" cy="463.3" r="7.30" fill="#abdda4" stroke="#abdda4"/>
<circle cx="1258.1" cy="481.9" r="7.30" fill="#fdae61" stroke="#fdae61"/>
<circle cx="1224.1" cy="474.7" r="7.30" fill="#d7191c" stroke="#d7191c"/>
<circle cx="1224.1" cy="481.9" r="7.30" fill="#ffffbf" stroke="#ffffbf"/>
<circle cx="1241.6" cy="477.8" r="7.30" fill="#2b83ba" stroke="#2b83ba"/>
<circle cx="1224.1" cy="493.2" r="7.30" fill="#abdda4" stroke="#abdda4"/>
<circle cx="1241.6" cy="486.0" r="7.30" fill="#abdda4" stroke="#abdda4"/>
<circle cx="1234.4" cy="494.3" r="7.30" fill="#ffffbf" stroke="#ffffbf"/>
<circle cx="1242.7" cy="527.3" r="7.30" fill="#fdae61" stroke="#fdae61"/>
<circle cx="1241.6" cy="506.7" r="7.30" fill="#d7191c" stroke="#d7191c"/>
<circle cx="1242.7" cy="519.0" r="7.30" fill="#d7191c" stroke="#d7191c"/>
<circle cx="1257.1" cy="502.5" r="7.30" fill="#ffffbf" stroke="#ffffbf"/>
<circle cx="1257.1" cy="535.5" r="7.30" fill="#fdae61" stroke="#fdae61"/>
<circle cx="1255.1" cy="530.4" r="7.30" fill="#2b83ba" stroke="#2b83ba"/>
<circle cx="1242.7" cy="537.6" r="7.30" fill="#abdda4" stroke="#abdda4"/>
<circle cx="1258.1" cy="554.1" r="7.30" fill="#abdda4" stroke="#abdda4"/>
<circle cx="1301.3" cy="349.0" r="7.30" fill="#abdda4" stroke="#abdda4"/>
<circle cx="1342.4" cy="388.3" r="7.30" fill="#abdda4" stroke="#abdda4"/>
<circle cx="1298.8" cy="409.8" r="7.30" fill="#2b83ba" stroke="#2b83ba"/>
<circle cx="1301.3" cy="404.7" r="7.30" fill="#fdae61" stroke="#fdae61"/>
<circle cx="1301.3" cy="398.4" r="7.30" fill="#2b83ba" stroke="#2b83ba"/>
<circle cx="1317.0" cy="421.2" r="7.30" fill="#2b83ba" stroke="#2b83ba"/>
<circle cx="1241.3" cy="406.0" r="7.30" fill="#fdae61" stroke="#fdae61"/>
<circle cx="1270.9" cy="417.4" r="7.30" fill="#fdae61" stroke="#fdae61"/>
<circle cx="1279.8" cy="426.3" r="7.30" fill="#ffffbf" stroke="#ffffbf"/>
<circle cx="1270.9" cy="431.3" r="7.30" fill="#2b83ba" stroke="#2b83ba"/>
<circle cx="1272.2" cy="440.2" r="7.30" fill="#ffffbf" stroke="#ffffbf"/>
<circle cx="1279.8" cy="442.7" r="7.30" fill="#abdda4" stroke="#abdda4"/>
<circle cx="1298.8" cy="438.9" r="7.30" fill="#abdda4" stroke="#abdda4"/>
<circle cx="1301.3" cy="432.6" r="7.30" fill="#ffffbf" stroke="#ffffbf"/>
<circle cx="1267.1" cy="463.0" r="7.30" fill="#d7191c" stroke="#d7191c"/>
<circle cx="1273.5" cy="465.5" r="7.30" fill="#abdda4" stroke="#abdda4"/>
<circle cx="1281.1" cy="469.3" r="7.30" fill="#2b83ba" stroke="#2b83ba"/>
<circle cx="1299.3" cy="458.0" r="7.30" fill="#d7191c" stroke="#d7191c"/>
<circle cx="1317.0" cy="458.0" r="7.30" fill="#abdda4" stroke="#abdda4"/>
<circle cx="1342.4" cy="457.9" r="7.30" fill="#2b83ba" stroke="#2b83ba"/>
<circle cx="1342.4" cy="450.3" r="7.30" fill="#ffffbf" stroke="#ffffbf"/>
<circle cx="1298.8" cy="484.5" r="7.30" fill="#fdae61" stroke="#fdae61"/>
<circle cx="1298.8" cy="475.7" r="7.30" fill="#d7191c" stroke="#d7191c"/>
<circle cx="1298.8" cy="480.7" r="7.30" fill="#abdda4" stroke="#abdda4"/>
<circle cx="1317.0" cy="478.2" r="7.30" fill="#d7191c" stroke="#d7191c"/>
<circle cx="1342.4" cy="484.5" r="7.30" fill="#fdae61" stroke="#fdae61"/>
<circle cx="1342.4" cy="488.3" r="7.30" fill="#d7191c" stroke="#d7191c"/>
<circle cx="1264.6" cy="482.0" r="7.30" fill="#fdae61" stroke="#fdae61"/>
<circle cx="1281.1" cy="484.5" r="7.30" fill="#d7191c" stroke="#d7191c"/>
<circle cx="1272.2" cy="492.1" r="7.30" fill="#2b83ba" stroke="#2b83ba"/>
<circle cx="1299.3" cy="508.6" r="7.30" fill="#2b83ba" stroke="#2b83ba"/>
<circle cx="1263.3" cy="508.6" r="7.30" fill="#2b83ba" stroke="#2b83ba"/>
<circle cx="1281.1" cy="512.4" r="7.30" fill="#fdae61" stroke="#fdae61"/>
<circle cx="1274.7" cy="515.0" r="7.30" fill="#d7191c" stroke="#d7191c"/>
<circle cx="1274.7" cy="532.7" r="7.30" fill="#2b83ba" stroke="#2b83ba"/>
<circle cx="1274.7" cy="523.8" r="7.30" fill="#ffffbf" stroke="#ffffbf"/>
<circle cx="1273.5" cy="545.4" r="7.30" fill="#abdda4" stroke="#abdda4"/>
<circle cx="1263.3" cy="554.2" r="7.30" fill="#abdda4" stroke="#abdda4"/>
<circle cx="1299.3" cy="561.8" r="7.30" fill="#ffffbf" stroke="#ffffbf"/>
<circle cx="1317.0" cy="555.5" r="7.30" fill="#fdae61" stroke="#fdae61"/>
<circle cx="1127.3" cy="639.1" r="7.30" fill="#ffffbf" stroke="#ffffbf"/>
<circle cx="1213.8" cy="651.2" r="7.30" fill="#fdae61" stroke="#fdae61"/>
<circle cx="1201.0" cy="583.5" r="7.30" fill="#fdae61" stroke="#fdae61"/>
<circle cx="1501.4" cy="447.1" r="7.30" fill="#2b83ba" stroke="#2b83ba"/>
<circle cx="1521.7" cy="469.9" r="7.30" fill="#ffffbf" stroke="#ffffbf"/>
<circle cx="1521.7" cy="460.7" r="7.30" fill="#abdda4" stroke="#abdda4"/>
<circle cx="1493.0" cy="473.9" r="7.30" fill="#fdae61" stroke="#fdae61"/>
<circle cx="1419.4" cy="478.3" r="7.30" fill="#2b83ba" stroke="#2b83ba"/>
<circle cx="1521.7" cy="496.2" r="7.30" fill="#d7191c" stroke="#d7191c"/>
<circle cx="1521.7" cy="509.4" r="7.30" fill="#fdae61" stroke="#fdae61"/>
<circle cx="1521.7" cy="504.6" r="7.30" fill="#2b83ba" stroke="#2b83ba"/>
<circle cx="1419.4" cy="506.2" r="7.30" fill="#abdda4" stroke="#abdda4"/>
<circle cx="1441.0" cy="497.5" r="7.30" fill="#2b83ba" stroke="#2b83ba"/>
<circle cx="1441.0" cy="508.0" r="7.30" fill="#abdda4" stroke="#abdda4"/>
<circle cx="1448.9" cy="508.0" r="7.30" fill="#fdae61" stroke="#fdae61"/>
<circle cx="1449.4" cy="498.8" r="7.30" fill="#abdda4" stroke="#abdda4"/>
<circle cx="1449.4" cy="514.6" r="7.30" fill="#2b83ba" stroke="#2b83ba"/>
<circle cx="1474.6" cy="518.6" r="7.30" fill="#abdda4" stroke="#abdda4"/>
<circle cx="1492.2" cy="515.9" r="7.30" fill="#ffffbf" stroke="#ffffbf"/>
<circle cx="1501.4" cy="504.1" r="7.30" fill="#abdda4" stroke="#abdda4"/>
<circle cx="1441.5" cy="529.1" r="7.30" fill="#d7191c" stroke="#d7191c"/>
<circle cx="1419.4" cy="534.3" r="7.30" fill="#2b83ba" stroke="#2b83ba"/>
<circle cx="1508.8" cy="546.1" r="7.30" fill="#fdae61" stroke="#fdae61"/>
<circle cx="1508.8" cy="537.0" r="7.30" fill="#2b83ba" stroke="#2b83ba"/>
<circle cx="1449.4" cy="552.7" r="7.30" fill="#d7191c" stroke="#d7191c"/>
<circle cx="1449.4" cy="547.5" r="7.30" fill="#ffffbf" stroke="#ffffbf"/>
<circle cx="1473.8" cy="551.4" r="7.30" fill="#2b83ba" stroke="#2b83ba"/>
<circle cx="1473.8" cy="558.0" r="7.30" fill="#2b83ba" stroke="#2b83ba"/>
<circle cx="1492.2" cy="552.7" r="7.30" fill="#abdda4" stroke="#abdda4"/>
<circle cx="1508.8" cy="552.2" r="7.30" fill="#abdda4" stroke="#abdda4"/>
<circle cx="1535.6" cy="556.7" r="7.30" fill="#2b83ba" stroke="#2b83ba"/>
<circle cx="1500.9" cy="568.5" r="7.30" fill="#ffffbf" stroke="#ffffbf"/>
<circle cx="1419.4" cy="559.3" r="7.30" fill="#fdae61" stroke="#fdae61"/>
<circle cx="1419.4" cy="563.8" r="7.30" fill="#d7191c" stroke="#d7191c"/>
<circle cx="1419.4" cy="585.6" r="7.30" fill="#abdda4" stroke="#abdda4"/>
<circle cx="1473.8" cy="584.3" r="7.30" fill="#fdae61" stroke="#fdae61"/>
<circle cx="1473.8" cy="577.2" r="7.30" fill="#d7191c" stroke="#d7191c"/>
<circle cx="1492.2" cy="580.8" r="7.30" fill="#d7191c" stroke="#d7191c"/>
<circle cx="1501.4" cy="590.8" r="7.30" fill="#d7191c" stroke="#d7191c"/>
<circle cx="1509.3" cy="597.4" r="7.30" fill="#d7191c" stroke="#d7191c"/>
<circle cx="1492.2" cy="600.8" r="7.30" fill="#2b83ba" stroke="#2b83ba"/>
<circle cx="1446.2" cy="603.4" r="7.30" fill="#2b83ba" stroke="#2b83ba"/>
<circle cx="1535.6" cy="610.5" r="7.30" fill="#d7191c" stroke="#d7191c"/>
<circle cx="1535.6" cy="601.3" r="7.30" fill="#ffffbf" stroke="#ffffbf"/>
<circle cx="1535.6" cy="589.5" r="7.30" fill="#abdda4" stroke="#abdda4"/>
<circle cx="1420.0" cy="617.1" r="7.30" fill="#d7191c" stroke="#d7191c"/>
<circle cx="1473.8" cy="626.3" r="7.30" fill="#d7191c" stroke="#d7191c"/>
<circle cx="1446.8" cy="657.8" r="7.30" fill="#d7191c" stroke="#d7191c"/>
<circle cx="1446.8" cy="648.6" r="7.30" fill="#abdda4" stroke="#abdda4"/>
<circle cx="1473.8" cy="655.2" r="7.30" fill="#fdae61" stroke="#fdae61"/>
<circle cx="1575.0" cy="600.0" r="7.30" fill="#abdda4" stroke="#abdda4"/>
<circle cx="1575.0" cy="630.2" r="7.30" fill="#d7191c" stroke="#d7191c"/>
<circle cx="1575.0" cy="623.7" r="7.30" fill="#2b83ba" stroke="#2b83ba"/>
<circle cx="1575.0" cy="670.2" r="7.30" fill="#fdae61" stroke="#fdae61"/>
<circle cx="1590.3" cy="587.7" r="7.30" fill="#abdda4" stroke="#abdda4"/>
<circle cx="1590.3" cy="604.8" r="7.30" fill="#2b83ba" stroke="#2b83ba"/>
<circle cx="1590.3" cy="618.4" r="7.30" fill="#d7191c" stroke="#d7191c"/>
<circle cx="1590.3" cy="634.2" r="7.30" fill="#fdae61" stroke="#fdae61"/>
<circle cx="1655.7" cy="526.3" r="7.30" fill="#2b83ba" stroke="#2b83ba"/>
<circle cx="1655.7" cy="544.7" r="7.30" fill="#d7191c" stroke="#d7191c"/>
<circle cx="1655.7" cy="547.0" r="7.30" fill="#abdda4" stroke="#abdda4"/>
<circle cx="1673.2" cy="524.5" r="7.30" fill="#2b83ba" stroke="#2b83ba"/>
<circle cx="1673.2" cy="540.4" r="7.30" fill="#abdda4" stroke="#abdda4"/>
<circle cx="1655.7" cy="576.1" r="7.30" fill="#fdae61" stroke="#fdae61"/>
<circle cx="1673.2" cy="603.3" r="7.30" fill="#fdae61" stroke="#fdae61"/>
<circle cx="1673.2" cy="599.5" r="7.30" fill="#d7191c" stroke="#d7191c"/>
<circle cx="1673.2" cy="588.3" r="7.30" fill="#ffffbf" stroke="#ffffbf"/>
<circle cx="1693.8" cy="637.1" r="7.30" fill="#fdae61" stroke="#fdae61"/>
<circle cx="1693.8" cy="620.6" r="7.30" fill="#d7191c" stroke="#d7191c"/>
<circle cx="1693.8" cy="623.9" r="7.30" fill="#abdda4" stroke="#abdda4"/>
<circle cx="1694.2" cy="465.3" r="7.30" fill="#2b83ba" stroke="#2b83ba"/>
<circle cx="1696.7" cy="475.7" r="7.30" fill="#fdae61" stroke="#fdae61"/>
<circle cx="1721.1" cy="474.7" r="7.30" fill="#2b83ba" stroke="#2b83ba"/>
<circle cx="1715.4" cy="482.2" r="7.30" fill="#fdae61" stroke="#fdae61"/>
<circle cx="1722.9" cy="481.3" r="7.30" fill="#abdda4" stroke="#abdda4"/>
<circle cx="1737.0" cy="468.2" r="7.30" fill="#fdae61" stroke="#fdae61"/>
<circle cx="1742.1" cy="486.9" r="7.30" fill="#abdda4" stroke="#abdda4"/>
<circle cx="1749.2" cy="443.8" r="7.30" fill="#2b83ba" stroke="#2b83ba"/>
<circle cx="1723.9" cy="440.0" r="7.30" fill="#d7191c" stroke="#d7191c"/>
<circle cx="1772.7" cy="441.9" r="7.30" fill="#fdae61" stroke="#fdae61"/>
<circle cx="1772.7" cy="455.0" r="7.30" fill="#d7191c" stroke="#d7191c"/>
<circle cx="1774.5" cy="454.1" r="7.30" fill="#abdda4" stroke="#abdda4"/>
<circle cx="1764.2" cy="483.2" r="7.30" fill="#2b83ba" stroke="#2b83ba"/>
<circle cx="1774.5" cy="496.3" r="7.30" fill="#d7191c" stroke="#d7191c"/>
<circle cx="1774.5" cy="501.9" r="7.30" fill="#d7191c" stroke="#d7191c"/>
<circle cx="1764.2" cy="500.1" r="7.30" fill="#2b83ba" stroke="#2b83ba"/>
<circle cx="1764.2" cy="519.8" r="7.30" fill="#abdda4" stroke="#abdda4"/>
<circle cx="1765.2" cy="513.2" r="7.30" fill="#ffffbf" stroke="#ffffbf"/>
<circle cx="1707.0" cy="510.4" r="7.30" fill="#ffffbf" stroke="#ffffbf"/>
<circle cx="1731.4" cy="500.1" r="7.30" fill="#fdae61" stroke="#fdae61"/>
<circle cx="1748.3" cy="505.7" r="7.30" fill="#fdae61" stroke="#fdae61"/>
<circle cx="1727.6" cy="515.1" r="7.30" fill="#d7191c" stroke="#d7191c"/>
<circle cx="1696.7" cy="517.9" r="7.30" fill="#2b83ba" stroke="#2b83ba"/>
<circle cx="1708.9" cy="528.2" r="7.30" fill="#fdae61" stroke="#fdae61"/>
<circle cx="1696.7" cy="529.2" r="7.30" fill="#ffffbf" stroke="#ffffbf"/>
<circle cx="1707.0" cy="535.7" r="7.30" fill="#abdda4" stroke="#abdda4"/>
<circle cx="1722.0" cy="521.6" r="7.30" fill="#2b83ba" stroke="#2b83ba"/>
<circle cx="1731.4" cy="530.1" r="7.30" fill="#d7191c" stroke="#d7191c"/>
<circle cx="1742.6" cy="516.0" r="7.30" fill="#2b83ba" stroke="#2b83ba"/>
<circle cx="1744.5" cy="530.1" r="7.30" fill="#ffffbf" stroke="#ffffbf"/>
<circle cx="1720.1" cy="537.6" r="7.30" fill="#fdae61" stroke="#fdae61"/>
<circle cx="1715.4" cy="544.2" r="7.30" fill="#2b83ba" stroke="#2b83ba"/>
<circle cx="1696.7" cy="550.7" r="7.30" fill="#d7191c" stroke="#d7191c"/>
<circle cx="1734.2" cy="558.2" r="7.30" fill="#2b83ba" stroke="#2b83ba"/>
<circle cx="1721.1" cy="554.5" r="7.30" fill="#d7191c" stroke="#d7191c"/>
<circle cx="1723.9" cy="560.1" r="7.30" fill="#fdae61" stroke="#fdae61"/>
<circle cx="1742.6" cy="551.7" r="7.30" fill="#d7191c" stroke="#d7191c"/>
<circle cx="1753.9" cy="541.4" r="7.30" fill="#fdae61" stroke="#fdae61"/>
<circle cx="1765.2" cy="539.5" r="7.30" fill="#fdae61" stroke="#fdae61"/>
<circle cx="1765.2" cy="546.0" r="7.30" fill="#2b83ba" stroke="#2b83ba"/>
<circle cx="1765.2" cy="575.1" r="7.30" fill="#fdae61" stroke="#fdae61"/>
<circle cx="1765.2" cy="573.3" r="7.30" fill="#ffffbf" stroke="#ffffbf"/>
<circle cx="1765.2" cy="558.2" r="7.30" fill="#d7191c" stroke="#d7191c"/>
<circle cx="1765.2" cy="567.6" r="7.30" fill="#abdda4" stroke="#abdda4"/>
<circle cx="1697.6" cy="563.9" r="7.30" fill="#abdda4" stroke="#abdda4"/>
<circle cx="1693.8" cy="569.5" r="7.30" fill="#fdae61" stroke="#fdae61"/>
<circle cx="1693.8" cy="573.3" r="7.30" fill="#2b83ba" stroke="#2b83ba"/>
<circle cx="1707.0" cy="569.5" r="7.30" fill="#2b83ba" stroke="#2b83ba"/>
<circle cx="1693.8" cy="591.1" r="7.30" fill="#ffffbf" stroke="#ffffbf"/>
<circle cx="1693.8" cy="581.7" r="7.30" fill="#ffffbf" stroke="#ffffbf"/>
<circle cx="1715.4" cy="578.9" r="7.30" fill="#ffffbf" stroke="#ffffbf"/>
<circle cx="1723.3" cy="573.3" r="7.30" fill="#2b83ba" stroke="#2b83ba"/>
<circle cx="1723.3" cy="583.6" r="7.30" fill="#abdda4" stroke="#abdda4"/>
<circle cx="1738.0" cy="580.8" r="7.30" fill="#d7191c" stroke="#d7191c"/>
<circle cx="1742.6" cy="568.6" r="7.30" fill="#abdda4" stroke="#abdda4"/>
<circle cx="1753.9" cy="579.8" r="7.30" fill="#2b83ba" stroke="#2b83ba"/>
<circle cx="1723.9" cy="590.2" r="7.30" fill="#d7191c" stroke="#d7191c"/>
<circle cx="1713.6" cy="598.6" r="7.30" fill="#abdda4" stroke="#abdda4"/>
<circle cx="1723.9" cy="597.7" r="7.30" fill="#abdda4" stroke="#abdda4"/>
<circle cx="1722.0" cy="605.2" r="7.30" fill="#ffffbf" stroke="#ffffbf"/>
<circle cx="1738.0" cy="614.5" r="7.30" fill="#ffffbf" stroke="#ffffbf"/>
<circle cx="1738.0" cy="608.9" r="7.30" fill="#abdda4" stroke="#abdda4"/>
<circle cx="1753.9" cy="603.3" r="7.30" fill="#ffffbf" stroke="#ffffbf"/>
<circle cx="1753.9" cy="607.0" r="7.30" fill="#d7191c" stroke="#d7191c"/>
<circle cx="1753.9" cy="593.9" r="7.30" fill="#abdda4" stroke="#abdda4"/>
<circle cx="1764.2" cy="596.7" r="7.30" fill="#fdae61" stroke="#fdae61"/>
<circle cx="1765.2" cy="609.9" r="7.30" fill="#d7191c" stroke="#d7191c"/>
<circle cx="1979.4" cy="414.6" r="7.30" fill="#d7191c" stroke="#d7191c"/>
<circle cx="1954.2" cy="402.3" r="7.30" fill="#abdda4" stroke="#abdda4"/>
<circle cx="1954.2" cy="411.3" r="7.30" fill="#d7191c" stroke="#d7191c"/>
<circle cx="1937.3" cy="411.3" r="7.30" fill="#ffffbf" stroke="#ffffbf"/>
<circle cx="1937.3" cy="405.6" r="7.30" fill="#abdda4" stroke="#abdda4"/>
<circle cx="1938.4" cy="425.9" r="7.30" fill="#d7191c" stroke="#d7191c"/>
<circle cx="1910.3" cy="431.1" r="7.30" fill="#d7191c" stroke="#d7191c"/>
<circle cx="1912.5" cy="457.4" r="7.30" fill="#fdae61" stroke="#fdae61"/>
<circle cx="1938.4" cy="467.6" r="7.30" fill="#fdae61" stroke="#fdae61"/>
<circle cx="1954.2" cy="504.7" r="7.30" fill="#fdae61" stroke="#fdae61"/>
<circle cx="1912.5" cy="509.2" r="7.30" fill="#ffffbf" stroke="#ffffbf"/>
<circle cx="1912.5" cy="503.6" r="7.30" fill="#abdda4" stroke="#abdda4"/>
<circle cx="1912.5" cy="493.5" r="7.30" fill="#d7191c" stroke="#d7191c"/>
<circle cx="1893.8" cy="514.9" r="7.30" fill="#d7191c" stroke="#d7191c"/>
<circle cx="1869.7" cy="513.7" r="7.30" fill="#d7191c" stroke="#d7191c"/>
<circle cx="1873.6" cy="519.4" r="7.30" fill="#fdae61" stroke="#fdae61"/>
<circle cx="1873.6" cy="514.4" r="7.30" fill="#2b83ba" stroke="#2b83ba"/>
<circle cx="1869.7" cy="536.3" r="7.30" fill="#fdae61" stroke="#fdae61"/>
<circle cx="1880.3" cy="532.9" r="7.30" fill="#d7191c" stroke="#d7191c"/>
<circle cx="1873.6" cy="570.0" r="7.30" fill="#ffffbf" stroke="#ffffbf"/>
<circle cx="1873.6" cy="562.2" r="7.30" fill="#d7191c" stroke="#d7191c"/>
<circle cx="1873.6" cy="582.0" r="7.30" fill="#abdda4" stroke="#abdda4"/>
<circle cx="1849.5" cy="581.3" r="7.30" fill="#fdae61" stroke="#fdae61"/>
<circle cx="1832.6" cy="564.4" r="7.30" fill="#d7191c" stroke="#d7191c"/>
<circle cx="1785.3" cy="564.0" r="7.30" fill="#d7191c" stroke="#d7191c"/>
<circle cx="1785.3" cy="593.2" r="7.30" fill="#2b83ba" stroke="#2b83ba"/>
<circle cx="1851.3" cy="625.2" r="7.30" fill="#d7191c" stroke="#d7191c"/>
<circle cx="1851.3" cy="612.8" r="7.30" fill="#ffffbf" stroke="#ffffbf"/>
<circle cx="1851.3" cy="620.7" r="7.30" fill="#abdda4" stroke="#abdda4"/>
<circle cx="1808.9" cy="545.3" r="7.30" fill="#d7191c" stroke="#d7191c"/>
<circle cx="1832.6" cy="548.6" r="7.30" fill="#ffffbf" stroke="#ffffbf"/>
<circle cx="1837.1" cy="535.1" r="7.30" fill="#fdae61" stroke="#fdae61"/>
<circle cx="1834.8" cy="532.9" r="7.30" fill="#2b83ba" stroke="#2b83ba"/>
<circle cx="1834.8" cy="537.4" r="7.30" fill="#abdda4" stroke="#abdda4"/>
<circle cx="1823.1" cy="534.7" r="7.30" fill="#d7191c" stroke="#d7191c"/>
<circle cx="1808.9" cy="530.6" r="7.30" fill="#ffffbf" stroke="#ffffbf"/>
<circle cx="1833.7" cy="510.4" r="7.30" fill="#fdae61" stroke="#fdae61"/>
<circle cx="1837.1" cy="519.4" r="7.30" fill="#d7191c" stroke="#d7191c"/>
<circle cx="1848.3" cy="512.6" r="7.30" fill="#d7191c" stroke="#d7191c"/>
<circle cx="1823.1" cy="516.0" r="7.30" fill="#ffffbf" stroke="#ffffbf"/>
<circle cx="1808.9" cy="504.7" r="7.30" fill="#abdda4" stroke="#abdda4"/>
<circle cx="1823.6" cy="504.7" r="7.30" fill="#fdae61" stroke="#fdae61"/>
<circle cx="1823.6" cy="492.3" r="7.30" fill="#abdda4" stroke="#abdda4"/>
<circle cx="1837.1" cy="489.0" r="7.30" fill="#abdda4" stroke="#abdda4"/>
<circle cx="1819.1" cy="474.3" r="7.30" fill="#d7191c" stroke="#d7191c"/>
<circle cx="1817.9" cy="478.8" r="7.30" fill="#fdae61" stroke="#fdae61"/>
<circle cx="1833.7" cy="478.8" r="7.30" fill="#fdae61" stroke="#fdae61"/>
<circle cx="1823.6" cy="466.4" r="7.30" fill="#abdda4" stroke="#abdda4"/>
<circle cx="1807.8" cy="465.3" r="7.30" fill="#fdae61" stroke="#fdae61"/>
<circle cx="1795.4" cy="472.1" r="7.30" fill="#fdae61" stroke="#fdae61"/>
<circle cx="1787.5" cy="487.8" r="7.30" fill="#fdae61" stroke="#fdae61"/>
<circle cx="1778.5" cy="481.1" r="7.30" fill="#fdae61" stroke="#fdae61"/>
<circle cx="1778.5" cy="502.5" r="7.30" fill="#d7191c" stroke="#d7191c"/>
<circle cx="1787.5" cy="502.5" r="7.30" fill="#d7191c" stroke="#d7191c"/>
<circle cx="1796.5" cy="504.7" r="7.30" fill="#d7191c" stroke="#d7191c"/>
<circle cx="1785.3" cy="511.5" r="7.30" fill="#2b83ba" stroke="#2b83ba"/>
<circle cx="1785.3" cy="521.6" r="7.30" fill="#abdda4" stroke="#abdda4"/>
<circle cx="1838.2" cy="463.1" r="7.30" fill="#d7191c" stroke="#d7191c"/>
<circle cx="1851.7" cy="457.4" r="7.30" fill="#2b83ba" stroke="#2b83ba"/>
<circle cx="1863.0" cy="459.7" r="7.30" fill="#d7191c" stroke="#d7191c"/>
<circle cx="1878.7" cy="490.1" r="7.30" fill="#fdae61" stroke="#fdae61"/>
<circle cx="1878.7" cy="480.0" r="7.30" fill="#fdae61" stroke="#fdae61"/>
<circle cx="1893.8" cy="454.1" r="7.30" fill="#abdda4" stroke="#abdda4"/>
<circle cx="1902.4" cy="467.6" r="7.30" fill="#abdda4" stroke="#abdda4"/>
<circle cx="1893.8" cy="470.9" r="7.30" fill="#ffffbf" stroke="#ffffbf"/>
<circle cx="1878.7" cy="443.9" r="7.30" fill="#d7191c" stroke="#d7191c"/>
<circle cx="1879.9" cy="440.5" r="7.30" fill="#ffffbf" stroke="#ffffbf"/>
<circle cx="1879.9" cy="431.5" r="7.30" fill="#fdae61" stroke="#fdae61"/>
<circle cx="1879.9" cy="415.8" r="7.30" fill="#abdda4" stroke="#abdda4"/>
<circle cx="1869.7" cy="420.3" r="7.30" fill="#abdda4" stroke="#abdda4"/>
<circle cx="1863.0" cy="403.4" r="7.30" fill="#ffffbf" stroke="#ffffbf"/>
<circle cx="1863.0" cy="411.3" r="7.30" fill="#fdae61" stroke="#fdae61"/>
<circle cx="1893.4" cy="405.6" r="7.30" fill="#2b83ba" stroke="#2b83ba"/>
<circle cx="1901.3" cy="411.3" r="7.30" fill="#fdae61" stroke="#fdae61"/>
<circle cx="1847.2" cy="420.3" r="7.30" fill="#abdda4" stroke="#abdda4"/>
<circle cx="1832.6" cy="429.3" r="7.30" fill="#d7191c" stroke="#d7191c"/>
<circle cx="1834.8" cy="440.5" r="7.30" fill="#2b83ba" stroke="#2b83ba"/>
<circle cx="1832.6" cy="437.2" r="7.30" fill="#abdda4" stroke="#abdda4"/>
<circle cx="1819.1" cy="437.2" r="7.30" fill="#abdda4" stroke="#abdda4"/>
<circle cx="1821.3" cy="446.2" r="7.30" fill="#2b83ba" stroke="#2b83ba"/>
<circle cx="1817.9" cy="418.0" r="7.30" fill="#abdda4" stroke="#abdda4"/>
<circle cx="1820.2" cy="411.3" r="7.30" fill="#d7191c" stroke="#d7191c"/>
<circle cx="1808.9" cy="411.3" r="7.30" fill="#2b83ba" stroke="#2b83ba"/>
<circle cx="1795.4" cy="412.4" r="7.30" fill="#ffffbf" stroke="#ffffbf"/>
<circle cx="1795.4" cy="430.4" r="7.30" fill="#2b83ba" stroke="#2b83ba"/>
<circle cx="1795.4" cy="424.8" r="7.30" fill="#abdda4" stroke="#abdda4"/>
<circle cx="1775.1" cy="402.3" r="7.30" fill="#abdda4" stroke="#abdda4"/>
<circle cx="1776.3" cy="415.8" r="7.30" fill="#fdae61" stroke="#fdae61"/>
<circle cx="1775.1" cy="429.3" r="7.30" fill="#ffffbf" stroke="#ffffbf"/>
<circle cx="1788.6" cy="436.0" r="7.30" fill="#ffffbf" stroke="#ffffbf"/>
<circle cx="1788.6" cy="447.3" r="7.30" fill="#abdda4" stroke="#abdda4"/>
<circle cx="1776.2" cy="331.0" r="7.30" fill="#2b83ba" stroke="#2b83ba"/>
<circle cx="1788.7" cy="347.8" r="7.30" fill="#2b83ba" stroke="#2b83ba"/>
<circle cx="1770.7" cy="377.3" r="7.30" fill="#ffffbf" stroke="#ffffbf"/>
<circle cx="1779.4" cy="373.3" r="7.30" fill="#2b83ba" stroke="#2b83ba"/>
<circle cx="1775.4" cy="386.9" r="7.30" fill="#2b83ba" stroke="#2b83ba"/>
<circle cx="1731.6" cy="377.6" r="7.30" fill="#abdda4" stroke="#abdda4"/>
<circle cx="1731.6" cy="398.3" r="7.30" fill="#2b83ba" stroke="#2b83ba"/>
<circle cx="1724.1" cy="415.6" r="7.30" fill="#2b83ba" stroke="#2b83ba"/>
<circle cx="1724.1" cy="411.6" r="7.30" fill="#abdda4" stroke="#abdda4"/>
<circle cx="1750.7" cy="412.4" r="7.30" fill="#d7191c" stroke="#d7191c"/>
<circle cx="1742.4" cy="412.0" r="7.30" fill="#2b83ba" stroke="#2b83ba"/>
<circle cx="1749.9" cy="420.3" r="7.30" fill="#ffffbf" stroke="#ffffbf"/>
<circle cx="1749.1" cy="431.2" r="7.30" fill="#abdda4" stroke="#abdda4"/>
<circle cx="1724.4" cy="433.1" r="7.30" fill="#ffffbf" stroke="#ffffbf"/>
<circle cx="1732.4" cy="433.9" r="7.30" fill="#ffffbf" stroke="#ffffbf"/>
<circle cx="1879.1" cy="219.2" r="7.30" fill="#2b83ba" stroke="#2b83ba"/>
<circle cx="1909.0" cy="231.0" r="7.30" fill="#fdae61" stroke="#fdae61"/>
<circle cx="1917.2" cy="248.1" r="7.30" fill="#2b83ba" stroke="#2b83ba"/>
<circle cx="1954.4" cy="245.4" r="7.30" fill="#2b83ba" stroke="#2b83ba"/>
<circle cx="1937.3" cy="260.9" r="7.30" fill="#2b83ba" stroke="#2b83ba"/>
<circle cx="1936.2" cy="283.2" r="7.30" fill="#fdae61" stroke="#fdae61"/>
<circle cx="1879.1" cy="278.4" r="7.30" fill="#2b83ba" stroke="#2b83ba"/>
<circle cx="1909.4" cy="287.7" r="7.30" fill="#2b83ba" stroke="#2b83ba"/>
<circle cx="1910.4" cy="291.8" r="7.30" fill="#2b83ba" stroke="#2b83ba"/>
<circle cx="1818.0" cy="294.9" r="7.30" fill="#2b83ba" stroke="#2b83ba"/>
<circle cx="1912.5" cy="308.4" r="7.30" fill="#2b83ba" stroke="#2b83ba"/>
<circle cx="1936.2" cy="312.5" r="7.30" fill="#abdda4" stroke="#abdda4"/>
<circle cx="1879.5" cy="316.2" r="7.30" fill="#2b83ba" stroke="#2b83ba"/>
<circle cx="1879.5" cy="330.4" r="7.30" fill="#ffffbf" stroke="#ffffbf"/>
<circle cx="1838.8" cy="329.0" r="7.30" fill="#2b83ba" stroke="#2b83ba"/>
<circle cx="1910.0" cy="323.8" r="7.30" fill="#fdae61" stroke="#fdae61"/>
<circle cx="1918.7" cy="334.2" r="7.30" fill="#d7191c" stroke="#d7191c"/>
<circle cx="1919.7" cy="336.2" r="7.30" fill="#ffffbf" stroke="#ffffbf"/>
<circle cx="1909.4" cy="339.3" r="7.30" fill="#abdda4" stroke="#abdda4"/>
<circle cx="1919.7" cy="345.5" r="7.30" fill="#abdda4" stroke="#abdda4"/>
<circle cx="1936.2" cy="327.3" r="7.30" fill="#d7191c" stroke="#d7191c"/>
<circle cx="1936.2" cy="340.4" r="7.30" fill="#ffffbf" stroke="#ffffbf"/>
<circle cx="1936.2" cy="354.8" r="7.30" fill="#fdae61" stroke="#fdae61"/>
<circle cx="1936.2" cy="349.6" r="7.30" fill="#d7191c" stroke="#d7191c"/>
<circle cx="1938.7" cy="346.5" r="7.30" fill="#abdda4" stroke="#abdda4"/>
<circle cx="1979.6" cy="338.3" r="7.30" fill="#fdae61" stroke="#fdae61"/>
<circle cx="1979.6" cy="358.9" r="7.30" fill="#ffffbf" stroke="#ffffbf"/>
<circle cx="1979.6" cy="353.8" r="7.30" fill="#abdda4" stroke="#abdda4"/>
<circle cx="1846.4" cy="349.6" r="7.30" fill="#2b83ba" stroke="#2b83ba"/>
<circle cx="1818.6" cy="356.9" r="7.30" fill="#2b83ba" stroke="#2b83ba"/>
<circle cx="1833.0" cy="357.9" r="7.30" fill="#2b83ba" stroke="#2b83ba"/>
<circle cx="1880.5" cy="358.9" r="7.30" fill="#2b83ba" stroke="#2b83ba"/>
<circle cx="1901.1" cy="352.7" r="7.30" fill="#2b83ba" stroke="#2b83ba"/>
<circle cx="1907.3" cy="361.0" r="7.30" fill="#abdda4" stroke="#abdda4"/>
<circle cx="1910.4" cy="356.9" r="7.30" fill="#ffffbf" stroke="#ffffbf"/>
<circle cx="1917.6" cy="369.2" r="7.30" fill="#fdae61" stroke="#fdae61"/>
<circle cx="1938.3" cy="379.6" r="7.30" fill="#ffffbf" stroke="#ffffbf"/>
<circle cx="1901.1" cy="382.7" r="7.30" fill="#d7191c" stroke="#d7191c"/>
<circle cx="1822.7" cy="371.3" r="7.30" fill="#2b83ba" stroke="#2b83ba"/>
<circle cx="1816.5" cy="380.6" r="7.30" fill="#2b83ba" stroke="#2b83ba"/>
<circle cx="1818.2" cy="370.9" r="7.30" fill="#d7191c" stroke="#d7191c"/>
<circle cx="1818.6" cy="387.8" r="7.30" fill="#fdae61" stroke="#fdae61"/>
<circle cx="1845.4" cy="374.4" r="7.30" fill="#d7191c" stroke="#d7191c"/>
<circle cx="1861.9" cy="372.3" r="7.30" fill="#abdda4" stroke="#abdda4"/>
<circle cx="1861.9" cy="385.8" r="7.30" fill="#2b83ba" stroke="#2b83ba"/>
<circle cx="1870.2" cy="385.8" r="7.30" fill="#2b83ba" stroke="#2b83ba"/>
<circle cx="1834.1" cy="388.9" r="7.30" fill="#ffffbf" stroke="#ffffbf"/>
<circle cx="1845.4" cy="395.0" r="7.30" fill="#fdae61" stroke="#fdae61"/>
<circle cx="1837.2" cy="401.2" r="7.30" fill="#ffffbf" stroke="#ffffbf"/>
<circle cx="1861.9" cy="398.1" r="7.30" fill="#ffffbf" stroke="#ffffbf"/>
<circle cx="1882.6" cy="389.9" r="7.30" fill="#abdda4" stroke="#abdda4"/>
<circle cx="1878.4" cy="397.1" r="7.30" fill="#abdda4" stroke="#abdda4"/>
<circle cx="1938.8" cy="102.8" r="7.30" fill="#2b83ba" stroke="#2b83ba"/>
<circle cx="1936.5" cy="148.6" r="7.30" fill="#2b83ba" stroke="#2b83ba"/>
<circle cx="1979.9" cy="197.4" r="7.30" fill="#2b83ba" stroke="#2b83ba"/>
<circle cx="1501.1" cy="377.2" r="7.30" fill="#fdae61" stroke="#fdae61"/>
</g>
<circle cx="190" cy="981" r="7.30" fill="#2b83ba" stroke="#2b83ba" stroke-width="2.2" fill-opacity="0.88" stroke-opacity="0.88"/>
<text transform="translate(241.5,993.7) scale(0.795,1)" font-size="36.5" text-anchor="start" fill="#4d4d4d">Plain SARIMA</text>
<circle cx="190" cy="1043" r="7.30" fill="#abdda4" stroke="#abdda4" stroke-width="2.2" fill-opacity="0.88" stroke-opacity="0.88"/>
<text transform="translate(241.5,1055.7) scale(0.795,1)" font-size="36.5" text-anchor="start" fill="#4d4d4d">Gravity SARIMA</text>
<circle cx="507.5" cy="981" r="7.30" fill="#ffffbf" stroke="#ffffbf" stroke-width="2.2" fill-opacity="0.88" stroke-opacity="0.88"/>
<text transform="translate(559.0,993.7) scale(0.795,1)" font-size="36.5" text-anchor="start" fill="#4d4d4d">CDR SARIMA</text>
<circle cx="507.5" cy="1043" r="7.30" fill="#fdae61" stroke="#fdae61" stroke-width="2.2" fill-opacity="0.88" stroke-opacity="0.88"/>
<text transform="translate(559.0,1055.7) scale(0.795,1)" font-size="36.5" text-anchor="start" fill="#4d4d4d">LASSO</text>
<circle cx="796" cy="981" r="7.30" fill="#d7191c" stroke="#d7191c" stroke-width="2.2" fill-opacity="0.88" stroke-opacity="0.88"/>
<text transform="translate(847.5,993.7) scale(0.795,1)" font-size="36.5" text-anchor="start" fill="#4d4d4d">Mosaic</text>
</svg></body></html>
